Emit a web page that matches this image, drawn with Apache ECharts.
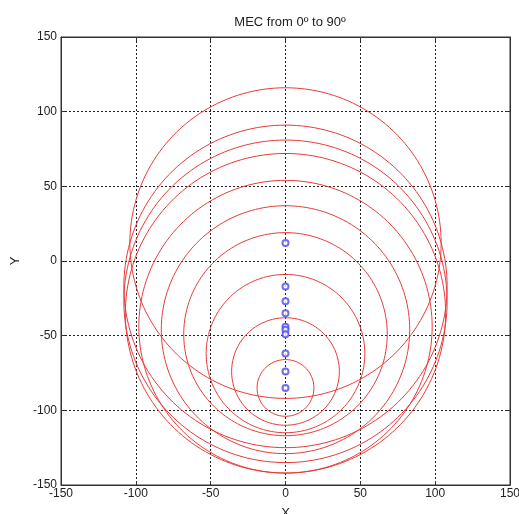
<!DOCTYPE html>
<html>
<head>
<meta charset="utf-8">
<script src="https://cdn.jsdelivr.net/npm/echarts@6/dist/echarts.min.js"></script>
<style>
  html, body { margin: 0; padding: 0; background: #fff; }
  #container { width: 519px; height: 514px; }
</style>
</head>
<body>
<div id="container"></div>
<script>
// circle centres (x, y) and radii
var centerX = [0, 0, 0, 0, 0, 0, 0, 0, 0, 0];
var centerY = [12, -17, -27, -35, -44, -46, -49, -62, -74, -85];
var radius = [104, 108, 108, 107, 98, 83, 68, 53, 36, 19];

var ticks = [-150, -100, -50, 0, 50, 100, 150];

var chart = echarts.init(document.getElementById("container"));

function circlePoints(cx, cy, r) {
  var pts = [];
  for (var a = 0; a <= 360; a += 2) {
    var t = a * Math.PI / 180;
    pts.push([cx + r * Math.cos(t), cy + r * Math.sin(t)]);
  }
  return pts;
}

var series = [];
for (var i = 0; i < radius.length; i++) {
  series.push({
    type: "line",
    data: circlePoints(centerX[i], centerY[i], radius[i]),
    showSymbol: false,
    silent: true,
    lineStyle: { color: "#e83a3a", width: 1 },
    z: 2
  });
}
series.push({
  type: "scatter",
  data: centerY.map(function (y, i) { return [centerX[i], y]; }),
  symbol: "emptyCircle",
  symbolSize: 6,
  itemStyle: { color: "#4a4af0", borderColor: "#4a4af0", borderWidth: 1 },
  z: 3
});

var font = "'Liberation Sans', Arial, sans-serif";

var axisCommon = {
  type: "value",
  min: -150,
  max: 150,
  interval: 50,
  axisLine: { show: true, onZero: false, lineStyle: { color: "#333", width: 1 } },
  axisTick: { show: true, inside: true, length: 4, lineStyle: { color: "#333" } },
  splitLine: { show: true, lineStyle: { color: "#222", type: [2, 2], width: 1 } }
};

var option = {
  animation: false,
  title: {
    text: "MEC from 0\u00ba to 90\u00ba",
    left: 285,
    top: 11,
    textAlign: "center",
    textStyle: { fontFamily: font, fontSize: 13, fontWeight: "normal", color: "#222" }
  },
  grid: {
    left: 61, right: 9, top: 37, bottom: 29,
    outerBoundsMode: "none",
    containLabel: false,
    show: true, borderColor: "#333", borderWidth: 1
  },
  xAxis: [
    Object.assign({}, axisCommon, {
      position: "bottom",
      name: "X",
      nameLocation: "middle",
      nameGap: 22,
      nameTextStyle: { fontFamily: font, fontSize: 13, color: "#222" },
      axisLabel: { margin: 3, fontFamily: font, fontSize: 12, color: "#222" }
    }),
    Object.assign({}, axisCommon, {
      position: "top",
      axisLabel: { show: false },
      splitLine: { show: false }
    })
  ],
  yAxis: [
    Object.assign({}, axisCommon, {
      position: "left",
      name: "Y",
      nameLocation: "middle",
      nameGap: 26,
      nameRotate: 90,
      nameTextStyle: { fontFamily: font, fontSize: 13, color: "#222" },
      axisLabel: { margin: 4, fontFamily: font, fontSize: 12, color: "#222" }
    }),
    Object.assign({}, axisCommon, {
      position: "right",
      axisLabel: { show: false },
      splitLine: { show: false }
    })
  ],
  series: series
};

chart.setOption(option);
</script>
</body>
</html>
